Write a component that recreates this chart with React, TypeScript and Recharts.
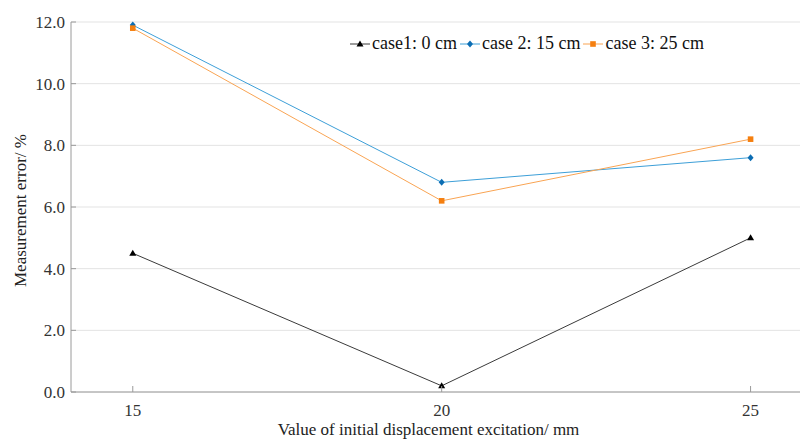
import { CartesianGrid, Legend, Line, LineChart, XAxis, YAxis } from "recharts";

const excitation = [15, 20, 25];
const case1 = [4.5, 0.2, 5.0];
const case2 = [11.9, 6.8, 7.6];
const case3 = [11.8, 6.2, 8.2];
const xTicks = [15, 20, 25];
const yTicks = [0, 2, 4, 6, 8, 10, 12];

const data = excitation.map((x, i) => ({ x, case1: case1[i], case2: case2[i], case3: case3[i] }));

const font = "Liberation Serif";
const axisColor = "#9a9a9a";

const series = [
  { key: "case1", name: "case1: 0 cm", line: "#3a3a3a", dot: "#000000", shape: "triangle" },
  { key: "case2", name: "case 2: 15 cm", line: "#3d9fd8", dot: "#0b6db3", shape: "diamond" },
  { key: "case3", name: "case 3: 25 cm", line: "#f9a453", dot: "#f57f0f", shape: "square" },
];

function Marker({ cx, cy, shape, fill }: { cx: number; cy: number; shape: string; fill: string }) {
  if (cx == null || cy == null) return null;
  if (shape === "triangle") {
    return <path d={`M${cx},${cy - 3.5}L${cx + 3.5},${cy + 2.5}L${cx - 3.5},${cy + 2.5}Z`} fill={fill} />;
  }
  if (shape === "diamond") {
    return <path d={`M${cx},${cy - 3.5}L${cx + 3},${cy}L${cx},${cy + 3.5}L${cx - 3},${cy}Z`} fill={fill} />;
  }
  return <rect x={cx - 2.8} y={cy - 2.8} width={5.6} height={5.6} fill={fill} />;
}

function BottomTick({ x, y, payload }: any) {
  return (
    <g>
      <line x1={x} x2={x} y1={y} y2={y - 6} stroke={axisColor} />
      <text x={x} y={y + 24} textAnchor="middle" style={{ fontFamily: font, fontSize: 17 }} fill="#333">
        {payload.value}
      </text>
    </g>
  );
}

function TopTick({ x, y }: any) {
  return <line x1={x} x2={x} y1={y} y2={y + 6} stroke={axisColor} />;
}

function LeftTick({ x, y, payload }: any) {
  return (
    <g>
      <line x1={x} x2={x + 5} y1={y} y2={y} stroke={axisColor} />
      <text x={x - 6} y={y} dy="0.35em" textAnchor="end" style={{ fontFamily: font, fontSize: 17 }} fill="#333">
        {Number(payload.value).toFixed(1)}
      </text>
    </g>
  );
}

function LegendBox() {
  return (
    <div style={{ display: "flex", alignItems: "center", fontFamily: font, fontSize: 18, color: "#111", whiteSpace: "nowrap" }}>
      {series.map((s) => (
        <div key={s.key} style={{ display: "flex", alignItems: "center", marginRight: 3 }}>
          <svg width={20} height={10} style={{ marginRight: 2 }}>
            <line x1={0} x2={20} y1={5} y2={5} stroke={s.line} strokeWidth={1} />
            <Marker cx={10} cy={5} shape={s.shape} fill={s.dot} />
          </svg>
          <span>{s.name}</span>
        </div>
      ))}
    </div>
  );
}

export default function App() {
  return (
    <div style={{ position: "absolute", left: 0, top: 0, width: 800, height: 440, background: "#fff", fontFamily: font }}>
      <LineChart width={800} height={440} data={data} margin={{ top: 22, right: 0, bottom: 0, left: 0 }}>
        <CartesianGrid horizontal vertical={false} stroke="#e3e3e3" />
        <XAxis
          dataKey="x"
          type="number"
          domain={[14, 25.8]}
          ticks={xTicks}
          allowDataOverflow
          height={48}
          tickSize={0}
          tickMargin={0}
          tickLine={false}
          stroke={axisColor}
          tick={<BottomTick />}
          label={{ value: "Value of initial displacement excitation/ mm", position: "insideBottom", offset: 5, dx: -7, fontFamily: font, fontSize: 17, fill: "#222" }}
        />
        <XAxis
          xAxisId="top"
          dataKey="x"
          type="number"
          orientation="top"
          domain={[14, 25.8]}
          ticks={xTicks}
          allowDataOverflow
          height={0}
          tickSize={0}
          tickLine={false}
          stroke={axisColor}
          tick={<TopTick />}
        />
        <YAxis
          type="number"
          domain={[0, 12]}
          ticks={yTicks}
          width={71}
          tickSize={0}
          tickMargin={0}
          tickLine={false}
          stroke={axisColor}
          tick={<LeftTick />}
          label={{ value: "Measurement error/ %", angle: -90, position: "insideLeft", offset: 20, dy: 80, fontFamily: font, fontSize: 17, fill: "#222" }}
        />
        <Legend
          layout="horizontal"
          verticalAlign="middle"
          align="center"
          wrapperStyle={{ top: 33, left: 350, width: "auto" }}
          content={<LegendBox />}
        />
        {series.map((s) => (
          <Line
            key={s.key}
            dataKey={s.key}
            name={s.name}
            stroke={s.line}
            strokeWidth={1}
            isAnimationActive={false}
            dot={(p: any) => <Marker key={`${s.key}-${p.index}`} cx={p.cx} cy={p.cy} shape={s.shape} fill={s.dot} />}
            activeDot={false}
          />
        ))}
      </LineChart>
    </div>
  );
}
